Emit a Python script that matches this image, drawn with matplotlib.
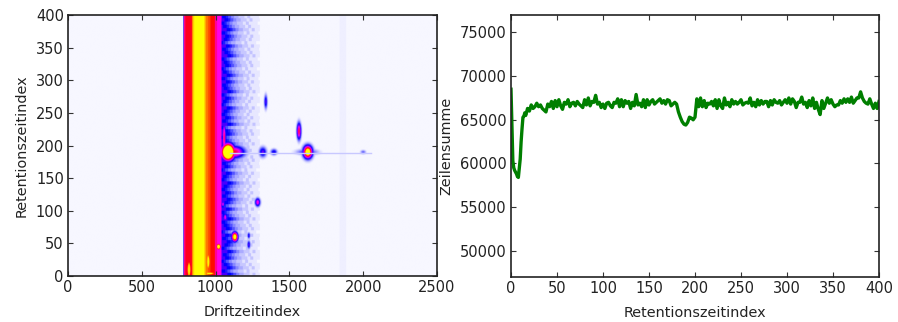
import matplotlib
matplotlib.use('Agg')
import matplotlib.pyplot as plt
from matplotlib.colors import LinearSegmentedColormap
import numpy as np

# Left panel: intensity bands along the drift axis (value 0 white ... 1 yellow)
drift_edges=[0,778,785,795,838,846,854,925,935,950,965,993,1010,1038,1050,1075,1090,
             1110,1130,1160,1200,1222,1238,1300,1840,1885,2500]
band_levels=[0.008,0.2,0.62,0.72,0.86,0.95,1.0,0.92,0.86,0.82,0.76,0.6,0.52,0.32,0.25,0.22,
             0.17,0.12,0.085,0.055,0.03,0.06,0.025,0.01,0.016,0.008]

# row streaks of the blue flank, one shift of the drift position per 5 rows
flank_shift=[30,-10,25,5,-20,15,0,30,-15,10,25,-5,15,-25,20,5,-10,30,0,-15,
             20,-20,10,25,-5,15,-10,5,30,-15,0,20,-25,10,-5,25,15,-20,5,-10,
             25,0,-15,20,10,-25,30,-5,15,-10,5,25,-20,0,15,-15,30,5,-5,20,
             -10,25,0,-20,15,5,-15,30,10,-5,20,-25,5,15,-10,25,0,-15,10,-5]

# drift, retention, peak level, sigma drift, sigma retention
peak_drift=[1085,1125,1058,1320,1395,1625,1565,1340,1285,1130,1020,1065,1050,1225,1225,835,945,820,950,960,2000,1620]
peak_ret=[190,190,212,190,190,190,222,267,113,60,45,90,110,48,62,190,190,10,22,4,190,190]
peak_level=[2.2,0.7,0.66,0.36,0.3,1.3,0.72,0.33,0.55,1.3,1.3,0.55,0.52,0.34,0.32,0.58,0.74,1.2,1.1,1.1,0.16,0.25]
peak_w=[26,45,8,16,14,19,9,7,11,13,11,8,7,7,6,14,12,10,12,35,12,45]
peak_h=[7.5,6,16,5,3,6,8,7,4,4.5,3.5,4,3,4,3,6,6,12,14,2,2,3]

# Right panel: Zeilensumme per Retentionszeitindex
ret_start=[0,1,2,3,4,5,6,7,8,9,10,11,12,13,14,15,16]
sum_start=[68500,64500,60300,59500,59200,59000,58800,58500,58400,59500,60500,62500,64000,65300,65400,65800,65500]
ret_rest=[18,20,22,24,26,28,30,32,34,36,38,40,42,44,46,48,50,52,54,56,58,60,62,64,66,68,70,72,74,76,
          78,80,82,84,86,88,90,92,94,96,98,100,102,104,106,108,110,112,114,116,118,120,122,124,126,128,130,132,134,136,
          138,140,142,144,146,148,150,152,154,156,158,160,162,164,166,168,170,172,174,176,178,180,182,184,186,188,190,192,194,196,
          198,200,202,204,206,208,210,212,214,216,218,220,222,224,226,228,230,232,234,236,238,240,242,244,246,248,250,252,254,256,
          258,260,262,264,266,268,270,272,274,276,278,280,282,284,286,288,290,292,294,296,298,300,302,304,306,308,310,312,314,316,
          318,320,322,324,326,328,330,332,334,336,338,340,342,344,346,348,350,352,354,356,358,360,362,364,366,368,370,372,374,376,
          378,380,382,384,386,388,390,392,394,396,398,400]
sum_rest=[66300,66000,66700,66300,66500,66900,66500,66700,66300,66100,
          65900,66800,66500,67100,66300,67200,66500,67300,66600,66200,
          67000,66800,67300,66500,66900,67000,66600,67100,66800,66600,
          66400,67300,66700,67500,66600,67100,67000,67800,66800,67000,
          66400,66800,66300,66900,67000,66600,66400,67000,66900,67400,
          66500,67300,66500,67200,66900,67100,66300,67000,66600,67900,
          66700,66900,66500,67300,66400,67300,66700,67100,67300,66800,
          67000,67200,67400,66900,67200,66800,67300,67200,66600,66800,
          67000,66800,65900,65300,64800,64500,64400,64700,65300,65200,
          65000,65300,67400,66500,67500,66500,67200,66400,66900,66800,
          67100,66600,67300,66300,67300,66600,66300,67500,66700,67000,
          66500,67300,66800,67100,66800,67000,67300,66700,66900,67000,
          66900,67500,66600,67000,66500,67300,66700,67200,66800,67100,
          67100,66500,67200,66700,67300,67000,66900,67200,66700,67000,
          67300,66900,67500,66800,67400,67100,66400,67000,67000,67600,
          66800,67000,66400,67200,66600,67500,66300,67000,66200,65600,
          67200,66300,66900,67500,66900,67300,66800,66500,66700,66700,
          67200,66900,67400,67000,67400,67000,67600,66900,67200,67500,
          67500,68200,67500,67100,66900,66800,67400,66800,66300,66900,
          66300,67100]

cmap_ims=LinearSegmentedColormap.from_list('ims',[(0,'#ffffff'),(0.25,'#0000ff'),(0.5,'#ff00ff'),
                                                   (0.75,'#ff0000'),(1,'#ffff00')])
plt.rcParams['font.family']='DejaVu Sans'
plt.rcParams['font.size']=10.5

fig=plt.figure(figsize=(8.98,3.22),dpi=100,facecolor='white')
ax0=fig.add_axes([68/898,1-276/322,369/898,261/322])
ax1=fig.add_axes([511/898,1-277/322,368/898,262/322])

# Subplot 1
drift_grid=np.arange(2.5,2500,5.0)
ret_grid=np.arange(0.5,400,1.0)
dd,rr=np.meshgrid(drift_grid,ret_grid)
shift=np.array(flank_shift)[(rr//5).astype(int)]
in_flank=(dd>1040)&(dd<1300)
dd_shift=np.where(in_flank,np.maximum(dd-shift,1040),dd)
levels=np.array(band_levels)
img=levels[np.clip(np.searchsorted(drift_edges,dd_shift)-1,0,len(levels)-1)]
for i in range(len(peak_drift)):
    spot=peak_level[i]*np.exp(-0.5*((dd-peak_drift[i])/peak_w[i])**2-0.5*((rr-peak_ret[i])/peak_h[i])**2)
    img=np.maximum(img,spot)
ax0.imshow(img,origin='lower',extent=[0,2500,0,400],aspect='auto',cmap=cmap_ims,vmin=0,vmax=1,interpolation='bilinear')
ax0.plot([1100,2050],[189,189],color='#c8c8ff',linewidth=1)
ax0.set_xlim(0,2500)
ax0.set_ylim(0,400)
ax0.set_xticks(np.arange(0,2501,500))
ax0.set_yticks(np.arange(0,401,50))
ax0.set_xlabel('Driftzeitindex',fontsize=10.4,labelpad=7)
ax0.set_ylabel('Retentionszeitindex',fontsize=10.4,labelpad=5)

# Subplot 2
ax1.plot(ret_start+ret_rest,sum_start+sum_rest,color='#007f00',linewidth=2.4)
ax1.set_xlim(0,400)
ax1.set_ylim(47000,77000)
ax1.set_xticks(np.arange(0,401,50))
ax1.set_yticks(np.arange(50000,75001,5000))
ax1.set_xlabel('Retentionszeitindex',fontsize=10.4,labelpad=7)
ax1.set_ylabel('Zeilensumme',fontsize=10.4,labelpad=4.5)

for ax in [ax0,ax1]:
    ax.tick_params(direction='in',top=True,right=True,length=3.6,width=0.8,color='#333333',labelcolor='#222222',pad=3)
    ax.xaxis.label.set_color('#222222')
    ax.yaxis.label.set_color('#222222')
    for sp in ax.spines.values():
        sp.set_linewidth(1.2)
        sp.set_color('#222222')

fig.savefig('out.png',dpi=100)
